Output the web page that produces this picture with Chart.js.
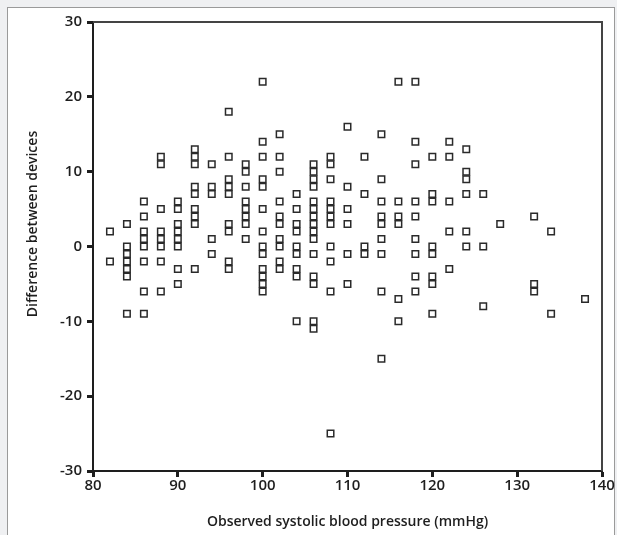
<!DOCTYPE html>
<html>
<head>
<meta charset="utf-8">
<script src="https://cdn.jsdelivr.net/npm/chart.js@4.4.1/dist/chart.umd.min.js"></script>
<style>
  body { margin: 0; background: #eff0f2; }
  #panel { position: absolute; left: 7px; top: 7px; width: 606px; height: 540px; background: #fff; border: 1px solid #9a9a9a; }
  #wrap { position: absolute; left: 0; top: 0; width: 617px; height: 535px; }
</style>
</head>
<body>
<div id="panel"></div>
<div id="wrap"><canvas id="scatterChart"></canvas></div>
<script>
// Observed systolic BP (x) and the device differences seen at each level
const bpLevels = [82, 84, 86, 88, 90, 92, 94, 96, 98, 100, 102, 104, 106, 108,
  110, 112, 114, 116, 118, 120, 122, 124, 126, 128, 132, 134, 138];
const differences = [
  [2, -2],
  [3, 0, -1, -2, -3, -4, -9],
  [6, 4, 2, 1, 0, -2, -6, -9],
  [12, 11, 5, 2, 1, 0, -2, -6],
  [6, 5, 3, 2, 1, 0, -3, -5],
  [13, 12, 11, 8, 7, 5, 4, 3, -3],
  [11, 8, 7, 1, -1],
  [18, 12, 9, 8, 7, 3, 2, -2, -3],
  [11, 10, 8, 6, 5, 4, 3, 1],
  [22, 14, 12, 9, 8, 5, 2, 0, -1, -3, -4, -5, -6],
  [15, 12, 10, 6, 4, 3, 1, 0, -2, -3],
  [7, 5, 3, 2, 0, -1, -3, -4, -10],
  [11, 10, 9, 8, 6, 5, 4, 3, 2, 1, -1, -4, -5, -10, -11],
  [12, 11, 9, 6, 5, 4, 3, 0, -2, -6, -25],
  [16, 8, 5, 3, -1, -5],
  [12, 7, 0, -1],
  [15, 9, 6, 4, 3, 1, -1, -6, -15],
  [22, 6, 4, 3, -7, -10],
  [22, 14, 11, 6, 4, 1, -1, -4, -6],
  [12, 7, 6, 0, -1, -4, -5, -9],
  [14, 12, 6, 2, -3],
  [13, 10, 9, 7, 2, 0],
  [7, 0, -8],
  [3],
  [4, -5, -6],
  [2, -9],
  [-7]
];
const xTicks = [80, 90, 100, 110, 120, 130, 140];
const yTicks = [-30, -20, -10, 0, 10, 20, 30];
const xTitle = 'Observed systolic blood pressure (mmHg)';
const yTitle = 'Difference between devices';

const points = [];
bpLevels.forEach((bp, i) => {
  differences[i].forEach(d => points.push({ x: bp, y: d }));
});

const font = { family: 'Open Sans', size: 14, weight: '600' };
const tickFont = { family: 'Open Sans', size: 15, weight: '600' };
const ink = '#1e1e1e';

// box on top/right plus the rotated y title
const framePlugin = {
  id: 'frame',
  afterDraw(chart) {
    const { ctx, chartArea: a } = chart;
    ctx.save();
    ctx.strokeStyle = '#444';
    ctx.lineWidth = 2;
    ctx.beginPath();
    ctx.moveTo(a.left, a.top);
    ctx.lineTo(a.right, a.top);
    ctx.lineTo(a.right, a.bottom);
    ctx.stroke();
    ctx.translate(33, 224);
    ctx.rotate(-Math.PI / 2);
    ctx.fillStyle = ink;
    ctx.font = '600 14px "Open Sans"';
    ctx.textAlign = 'center';
    ctx.textBaseline = 'middle';
    ctx.fillText(yTitle, 0, 0);
    ctx.restore();
  }
};

const ctx = document.getElementById('scatterChart').getContext('2d');
const chart = new Chart(ctx, {
  type: 'scatter',
  data: {
    datasets: [{
      data: points,
      pointStyle: 'rect',
      pointRadius: 4.6,
      pointHoverRadius: 4.6,
      borderWidth: 1.5,
      borderColor: '#2a2a2a',
      backgroundColor: '#fff'
    }]
  },
  options: {
    responsive: true,
    maintainAspectRatio: false,
    animation: false,
    events: [],
    layout: { padding: { left: 0, top: 22, right: 15, bottom: 0 } },
    plugins: { legend: { display: false }, tooltip: { enabled: false } },
    scales: {
      x: {
        type: 'linear',
        min: xTicks[0],
        max: xTicks[xTicks.length - 1],
        afterBuildTicks: s => { s.ticks = xTicks.map(v => ({ value: v })); },
        afterFit: s => { s.height = 64; },
        grid: { drawOnChartArea: false, tickLength: 6, tickWidth: 3, tickColor: ink },
        border: { width: 2, color: ink },
        ticks: { color: ink, font: tickFont, padding: 0, maxRotation: 0 },
        title: { display: true, text: xTitle, color: ink, font, padding: { top: 0, bottom: 5 } }
      },
      y: {
        type: 'linear',
        min: yTicks[0],
        max: yTicks[yTicks.length - 1],
        afterBuildTicks: s => { s.ticks = yTicks.map(v => ({ value: v })); },
        afterFit: s => { s.width = 93; },
        grid: { drawOnChartArea: false, tickLength: 6, tickWidth: 3, tickColor: ink },
        border: { width: 2, color: ink },
        ticks: { color: ink, font: tickFont, padding: 5 }
      }
    }
  },
  plugins: [framePlugin]
});
</script>
</body>
</html>
